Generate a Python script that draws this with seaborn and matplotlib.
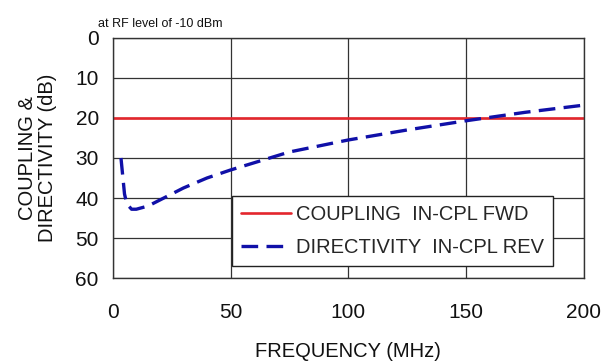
import numpy as np
import pandas as pd
import seaborn as sns
import matplotlib.pyplot as plt

# coupling (forward) stays flat across the band
coupling_freq = [0, 200]
coupling_db = [20, 20]

# directivity (reverse)
directivity_freq = [3.5, 4, 5, 6, 8, 10, 15, 20, 30, 40, 50, 75, 100, 125, 150, 175, 200]
directivity_db = [30, 33, 39, 41.5, 42.8, 42.8, 42, 40.5, 37.5, 35, 33, 28.5, 25.5, 23, 20.7, 18.6, 16.8]

x_ticks = [0, 50, 100, 150, 200]
y_ticks = [0, 10, 20, 30, 40, 50, 60]

sns.set_theme(style="white")
plt.rcParams["font.family"] = ["Liberation Sans", "DejaVu Sans"]

df_cpl = pd.DataFrame({"freq": coupling_freq, "db": coupling_db})
df_dir = pd.DataFrame({"freq": directivity_freq, "db": directivity_db})

fig = plt.figure(figsize=(6.16, 3.64), dpi=100)
ax = fig.add_axes([0.183, 0.236, 0.765, 0.66])

sns.lineplot(data=df_cpl, x="freq", y="db", ax=ax, color="#e3262d", linewidth=1.9,
             label="COUPLING  IN-CPL FWD")
sns.lineplot(data=df_dir, x="freq", y="db", ax=ax, color="#1010a8", linewidth=2.4,
             label="DIRECTIVITY  IN-CPL REV")
ax.lines[1].set_dashes((5, 2.5))

ax.set_xlim(0, 200)
ax.set_ylim(60, 0)
ax.set_xticks(x_ticks)
ax.set_yticks(y_ticks)
ax.grid(True, color="#333333", linewidth=0.9)
for s in ax.spines.values():
    s.set_color("#333333")
    s.set_linewidth(1.0)
ax.tick_params(axis="both", direction="out", length=6, width=1, color="#333333",
               labelsize=15, colors="#111111")
ax.tick_params(axis="x", pad=12)
ax.tick_params(axis="y", pad=4)

ax.set_xlabel("FREQUENCY (MHz)", fontsize=14.5, color="#111111", labelpad=14)
ax.set_ylabel("COUPLING &\nDIRECTIVITY (dB)", fontsize=14.5, color="#111111",
              linespacing=1.1, labelpad=13)

leg = ax.legend(loc="lower right", bbox_to_anchor=(0.935, 0.05), fontsize=14.5,
                frameon=True, fancybox=False, edgecolor="#222222", framealpha=1,
                handlelength=2.5, handletextpad=0.25, borderpad=0.45, labelspacing=0.7,
                borderaxespad=0)
leg.get_frame().set_linewidth(1.0)

fig.text(0.159, 0.925, "at RF level of -10 dBm", fontsize=9, color="#111111")

fig.savefig("out.png", dpi=100)
